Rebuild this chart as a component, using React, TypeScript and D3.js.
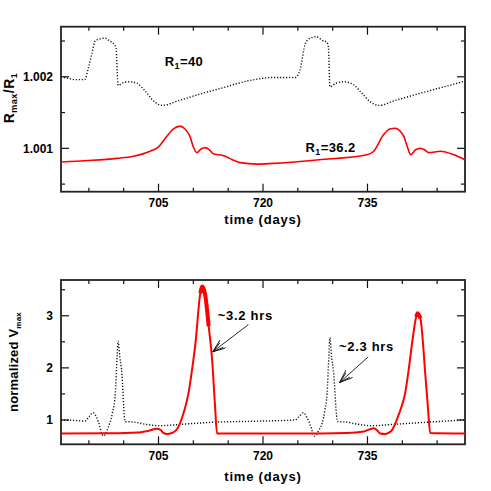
import React from 'react';
import * as d3 from 'd3';

// R1 = 40 (dotted) and R1 = 36.2 (red), Rmax/R1 versus time
const topDottedDays = [691, 692, 693, 694.4, 695.0, 695.5, 695.9, 696.6, 697.3, 698.0, 698.5, 698.9, 699.2, 700.0, 700.9, 701.9, 703.1, 704.1, 705.5, 708, 711, 714, 718.2, 721.5, 723.5, 724.6, 725.3, 726.1, 726.8, 727.7, 728.5, 729.2, 729.4, 729.6, 730.5, 731.6, 733.0, 734.2, 735.4, 736.6, 739, 742.6, 746, 749];
const topDottedVals = [1.00200, 1.00198, 1.00196, 1.00196, 1.00215, 1.00235, 1.00250, 1.00253, 1.00254, 1.00250, 1.00247, 1.00240, 1.00188, 1.00192, 1.00193, 1.00191, 1.00180, 1.00168, 1.00160, 1.00167, 1.00176, 1.00184, 1.00195, 1.00199, 1.00199, 1.00199, 1.00209, 1.00247, 1.00254, 1.00256, 1.00251, 1.00248, 1.00240, 1.00186, 1.00191, 1.00193, 1.00189, 1.00177, 1.00165, 1.00160, 1.00167, 1.00177, 1.00186, 1.00194];

const topRedDays = [691, 695, 699, 701.4, 703.8, 705.0, 706.2, 707.1, 708.1, 708.8, 709.5, 710.0, 710.5, 711.1, 711.7, 712.3, 712.9, 713.8, 714.6, 715.6, 716.7, 719.1, 721.5, 728, 734.9, 735.9, 737.3, 738.2, 739.0, 739.7, 740.2, 740.7, 741.2, 741.9, 742.6, 743.2, 743.8, 745.5, 747.4, 749];
const topRedVals = [1.00081, 1.00083, 1.00086, 1.00089, 1.00096, 1.00102, 1.00117, 1.00127, 1.00131, 1.00127, 1.00117, 1.00102, 1.00094, 1.00099, 1.00101, 1.00098, 1.00092, 1.00091, 1.00089, 1.00084, 1.00080, 1.00078, 1.00079, 1.00084, 1.00091, 1.00096, 1.00119, 1.00127, 1.00128, 1.00124, 1.00117, 1.00103, 1.00091, 1.00098, 1.00100, 1.00098, 1.00094, 1.00096, 1.00091, 1.00084];

// normalized Vmax versus time
const botDottedDays = [691, 693, 694.45, 695.0, 695.6, 696.0, 696.4, 697.1, 697.6, 698.0, 698.4, 698.8, 699.05, 699.2, 699.45, 699.7, 700.2, 701.4, 703, 705.2, 708.6, 713.4, 716.7, 720, 724.6, 725.2, 725.8, 726.3, 726.8, 727.4, 728.0, 728.5, 728.9, 729.2, 729.45, 729.6, 729.85, 730.1, 730.7, 732, 733.5, 735.6, 739.2, 744, 749];
const botDottedVals = [1.0, 0.99, 0.98, 1.06, 1.14, 1.08, 0.95, 0.69, 0.8, 0.94, 1.15, 1.51, 2.2, 2.51, 2.2, 1.96, 0.97, 0.96, 0.92, 0.89, 0.92, 0.96, 0.97, 0.98, 1.0, 1.07, 1.14, 1.05, 0.9, 0.69, 0.8, 0.94, 1.2, 1.51, 2.2, 2.58, 2.2, 1.96, 0.97, 0.96, 0.92, 0.89, 0.92, 0.96, 1.0];

const botRedDays = [691, 698, 702, 703.5, 704.75, 705.3, 705.7, 706.3, 707.1, 707.7, 708.1, 708.7, 709.3, 709.8, 710.3, 711.0, 711.3, 711.7, 712.2, 712.7, 713.1, 713.4, 716, 725, 732, 734.5, 735.9, 736.4, 736.8, 737.5, 738.0, 738.6, 739.2, 739.8, 740.4, 740.9, 741.4, 742.0, 742.2, 742.6, 743.3, 743.7, 744.0, 749];
const botRedVals = [0.74, 0.745, 0.76, 0.79, 0.83, 0.81, 0.75, 0.73, 0.76, 0.83, 0.94, 1.18, 1.51, 1.95, 2.47, 3.43, 3.56, 3.4, 2.8, 2.15, 1.3, 0.74, 0.74, 0.74, 0.75, 0.78, 0.84, 0.8, 0.74, 0.73, 0.75, 0.82, 1.0, 1.22, 1.51, 1.95, 2.47, 2.98, 3.05, 2.95, 1.88, 1.2, 0.75, 0.74];

const xMajor = [705, 720, 735];
const xMinor = [695, 700, 710, 715, 725, 730, 740, 745];
const topYMajor = [1.001, 1.002];
const topYMinor = [1.0005, 1.0015, 1.0025];
const botYMajor = [1, 2, 3];
const botYMinor = [1.5, 2.5, 3.5];

const font = '"Liberation Sans", Arial, sans-serif';
const left = 61;
const right = 465;

const x = d3.scaleLinear().domain([691, 749]).range([left, right]);
const yTop = d3.scaleLinear().domain([1.000394, 1.0027]).range([191.7, 26.7]);
const yBot = d3.scaleLinear().domain([0.533, 3.687]).range([444.3, 280]);

const zip = (xs: number[], ys: number[]) => xs.map((d, i) => [d, ys[i]] as [number, number]);

const Frame = ({ y, yMajor, yMinor, fmt, labelDy, titleY }: any) => {
  const [y0, y1] = y.range();
  return (
    <g>
      {xMajor.concat(xMinor).map((t: number) => {
        const len = xMajor.includes(t) ? 8 : 4;
        return (
          <g key={'x' + t}>
            <line x1={x(t)} x2={x(t)} y1={y0} y2={y0 - len} stroke="#111" strokeWidth={1.2} />
            <line x1={x(t)} x2={x(t)} y1={y1} y2={y1 + len} stroke="#111" strokeWidth={1.2} />
          </g>
        );
      })}
      {yMajor.concat(yMinor).map((t: number) => {
        const len = yMajor.includes(t) ? 8 : 4;
        return (
          <g key={'y' + t}>
            <line x1={left} x2={left + len} y1={y(t)} y2={y(t)} stroke="#111" strokeWidth={1.2} />
            <line x1={right} x2={right - len} y1={y(t)} y2={y(t)} stroke="#111" strokeWidth={1.2} />
          </g>
        );
      })}
      <rect x={left} y={y1} width={right - left} height={y0 - y1} fill="none" stroke="#222" strokeWidth={1.8} />
      {xMajor.map((t) => (
        <text key={'xl' + t} x={x(t)} y={y0 + labelDy} textAnchor="middle" fontSize={12} fontWeight="bold">{t}</text>
      ))}
      {yMajor.map((t: number) => (
        <text key={'yl' + t} x={53} y={y(t) + 4.5} textAnchor="end" fontSize={12} fontWeight="bold">{fmt(t)}</text>
      ))}
      <text x={263} y={titleY} textAnchor="middle" fontSize={13} fontWeight="bold" letterSpacing={0.8}>time (days)</text>
    </g>
  );
};

export default function App() {
  const lineTop = d3.line<[number, number]>().x((d) => x(d[0])).y((d) => yTop(d[1])).curve(d3.curveMonotoneX);
  const lineBot = d3.line<[number, number]>().x((d) => x(d[0])).y((d) => yBot(d[1])).curve(d3.curveMonotoneX);
  const redBot = zip(botRedDays, botRedVals);
  // the red peaks are drawn heavier: the model oscillates rapidly there
  const peaks = [redBot.filter((d) => d[0] > 710 && d[0] < 712.5 && d[1] > 2.7), redBot.filter((d) => d[0] > 741 && d[0] < 743 && d[1] > 2.7)];

  return (
    <svg width={491} height={491} style={{ position: 'absolute', left: 0, top: 0, background: '#fff' }} fontFamily={font}>
      <defs>
        <marker id="head" markerWidth={14} markerHeight={10} refX={13} refY={5} orient="auto" markerUnits="userSpaceOnUse">
          <path d="M0,0 L13,5 L0,10 M2,2.2 L13,5 L2,7.8" fill="none" stroke="#111" strokeWidth={0.9} />
        </marker>
      </defs>

      {/* upper panel */}
      <Frame y={yTop} yMajor={topYMajor} yMinor={topYMinor} fmt={d3.format('.3f')} labelDy={15.5} titleY={224} />
      <path d={lineTop(zip(topDottedDays, topDottedVals)) || ''} fill="none" stroke="#111" strokeWidth={1.4} strokeDasharray="1.2,1.8" />
      <path d={lineTop(zip(topRedDays, topRedVals)) || ''} fill="none" stroke="#f00" strokeWidth={1.6} />
      <text x={x(705.9)} y={yTop(1.00215)} fontSize={13} fontWeight="bold" letterSpacing={0.4}>R<tspan fontSize={9} dy={3}>1</tspan><tspan dy={-3}>=40</tspan></text>
      <text x={x(726.1)} y={yTop(1.00095)} fontSize={13} fontWeight="bold" letterSpacing={0.4}>R<tspan fontSize={9} dy={3}>1</tspan><tspan dy={-3}>=36.2</tspan></text>
      <text transform="translate(14,98) rotate(-90)" textAnchor="middle" fontSize={14} fontWeight="bold" letterSpacing={0.5}>
        R<tspan fontSize={9} dy={3}>max</tspan><tspan dy={-3}>/R</tspan><tspan fontSize={9} dy={3}>1</tspan>
      </text>

      {/* lower panel */}
      <Frame y={yBot} yMajor={botYMajor} yMinor={botYMinor} fmt={d3.format('d')} labelDy={16} titleY={481} />
      <path d={lineBot(zip(botDottedDays, botDottedVals)) || ''} fill="none" stroke="#111" strokeWidth={1.4} strokeDasharray="1.2,1.8" />
      <path d={lineBot(redBot) || ''} fill="none" stroke="#f00" strokeWidth={2} />
      {peaks.map((p, i) => (
        <path key={'pk' + i} d={lineBot(p) || ''} fill="none" stroke="#f00" strokeWidth={4} strokeLinejoin="round" />
      ))}
      <text transform="translate(18,362) rotate(-90)" textAnchor="middle" fontSize={13} fontWeight="bold" letterSpacing={0.2}>
        normalized V<tspan fontSize={8} dy={3}>max</tspan>
      </text>
      <text x={x(713.5)} y={yBot(2.92)} fontSize={13} fontWeight="bold" letterSpacing={0.7}>~3.2 hrs</text>
      <line x1={x(717.9)} y1={yBot(2.83)} x2={x(712.8)} y2={yBot(2.31)} stroke="#111" strokeWidth={0.9} markerEnd="url(#head)" />
      <text x={x(730.9)} y={yBot(2.33)} fontSize={13} fontWeight="bold" letterSpacing={0.7}>~2.3 hrs</text>
      <line x1={x(735.1)} y1={yBot(2.21)} x2={x(731.0)} y2={yBot(1.72)} stroke="#111" strokeWidth={0.9} markerEnd="url(#head)" />
    </svg>
  );
}
